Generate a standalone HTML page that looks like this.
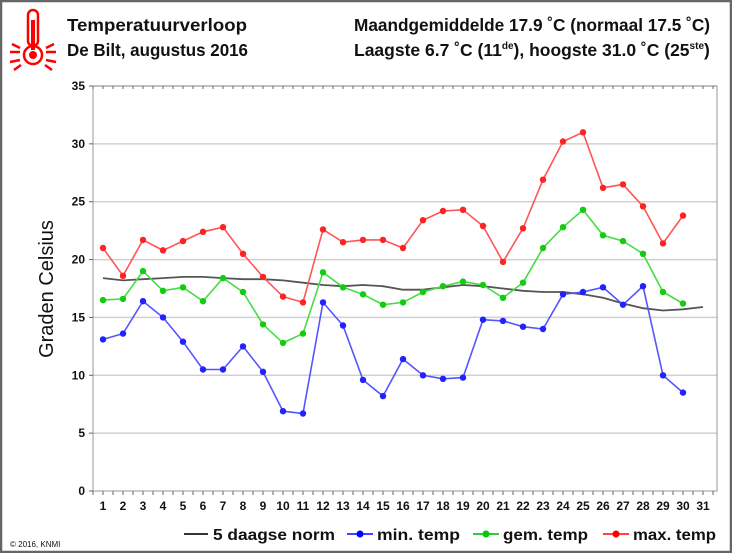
<!DOCTYPE html>
<html><head><meta charset="utf-8"><style>
body{margin:0;background:#fff;}
svg{display:block;font-family:"Liberation Sans",Arial,sans-serif;}
</style></head><body>
<svg id="c" width="732" height="553" viewBox="0 0 732 553" xmlns="http://www.w3.org/2000/svg">
<rect x="1" y="1" width="730" height="551" fill="#fff" stroke="#666" stroke-width="2.5"/>
<g stroke="#f00" fill="none" stroke-width="2.5">
<rect x="28" y="10" width="10" height="36" rx="5"/>
<circle cx="33" cy="55" r="9"/>
<line x1="33" y1="20" x2="33" y2="50" stroke-width="4"/>
<line x1="10" y1="52" x2="20" y2="52"/><line x1="46" y1="52" x2="56" y2="52"/>
<line x1="10" y1="62" x2="20" y2="60"/><line x1="46" y1="60" x2="56" y2="62"/>
<line x1="12" y1="44" x2="20" y2="48"/><line x1="46" y1="48" x2="54" y2="44"/>
<line x1="14" y1="70" x2="21" y2="65"/><line x1="45" y1="65" x2="52" y2="70"/>
</g>
<circle cx="33" cy="55" r="4" fill="#f00"/>
<g font-size="17.5" font-weight="bold" fill="#111">
<text x="67" y="31" textLength="180" lengthAdjust="spacingAndGlyphs">Temperatuurverloop</text>
<text x="67" y="56" textLength="181" lengthAdjust="spacingAndGlyphs">De Bilt, augustus 2016</text>
<text x="354" y="31" textLength="356" lengthAdjust="spacingAndGlyphs">Maandgemiddelde 17.9 ˚C (normaal 17.5 ˚C)</text>
<text x="354" y="56">Laagste 6.7 ˚C (11<tspan font-size="10" dy="-7">de</tspan><tspan dy="7">), hoogste 31.0 ˚C (25</tspan><tspan font-size="10" dy="-7">ste</tspan><tspan dy="7">)</tspan></text>
</g>
<text transform="translate(53,289) rotate(-90)" text-anchor="middle" font-size="20" fill="#111">Graden Celsius</text>
<g id="plot"></g>
<g font-size="15.5" font-weight="bold" fill="#111">
<line x1="184" y1="534" x2="208" y2="534" stroke="#333" stroke-width="2"/>
<text x="213" y="540" textLength="122" lengthAdjust="spacingAndGlyphs">5 daagse norm</text>
<line x1="347" y1="534" x2="373" y2="534" stroke="#44f" stroke-width="2"/><circle cx="360" cy="534" r="3.5" fill="#00f"/>
<text x="377" y="540" textLength="83" lengthAdjust="spacingAndGlyphs">min. temp</text>
<line x1="473" y1="534" x2="499" y2="534" stroke="#3c3" stroke-width="2"/><circle cx="486" cy="534" r="3.5" fill="#0c0"/>
<text x="503" y="540" textLength="85" lengthAdjust="spacingAndGlyphs">gem. temp</text>
<line x1="603" y1="534" x2="629" y2="534" stroke="#f44" stroke-width="2"/><circle cx="616" cy="534" r="3.5" fill="#f00"/>
<text x="633" y="540" textLength="83" lengthAdjust="spacingAndGlyphs">max. temp</text>
</g>
<text x="10" y="547" font-size="8" fill="#111">© 2016, KNMI</text>
</svg>
<script>
const g=document.getElementById('plot');
const L=93,R=717,T=86,B=491;
const X=d=>103+(d-1)*20, Y=v=>B-v*(B-T)/35;
let s='';
for(let v=5;v<=35;v+=5) s+=`<line x1="${L}" y1="${Y(v)}" x2="${R}" y2="${Y(v)}" stroke="#d0d0d0" stroke-width="1.5"/>`;
s+=`<rect x="${L}" y="${T}" width="${R-L}" height="${B-T}" fill="none" stroke="#999" stroke-width="1"/>`;
for(let v=0;v<=35;v+=5){s+=`<line x1="${L-4}" y1="${Y(v)}" x2="${L}" y2="${Y(v)}" stroke="#666"/><text x="${L-8}" y="${Y(v)+4}" text-anchor="end" font-size="12" font-weight="bold" fill="#111">${v}</text>`;}
for(let i=0;i<=62;i++){const x=93+i*10;if(x>R)break;s+=`<line x1="${x}" y1="${B}" x2="${x}" y2="${B+4}" stroke="#666"/><line x1="${x}" y1="${T}" x2="${x}" y2="${T+3}" stroke="#666"/>`;}
for(let d=1;d<=31;d++) s+=`<text x="${X(d)}" y="510" text-anchor="middle" font-size="12" font-weight="bold" fill="#111">${d}</text>`;
const norm=[18.4,18.2,18.3,18.4,18.5,18.5,18.4,18.3,18.3,18.2,18.0,17.8,17.7,17.8,17.7,17.4,17.4,17.6,17.8,17.7,17.5,17.3,17.2,17.2,17.0,16.7,16.2,15.8,15.6,15.7,15.9];
const mx=[21.0,18.6,21.7,20.8,21.6,22.4,22.8,20.5,18.5,16.8,16.3,22.6,21.5,21.7,21.7,21.0,23.4,24.2,24.3,22.9,19.8,22.7,26.9,30.2,31.0,26.2,26.5,24.6,21.4,23.8];
const gm=[16.5,16.6,19.0,17.3,17.6,16.4,18.4,17.2,14.4,12.8,13.6,18.9,17.6,17.0,16.1,16.3,17.2,17.7,18.1,17.8,16.7,18.0,21.0,22.8,24.3,22.1,21.6,20.5,17.2,16.2];
const mn=[13.1,13.6,16.4,15.0,12.9,10.5,10.5,12.5,10.3,6.9,6.7,16.3,14.3,9.6,8.2,11.4,10.0,9.7,9.8,14.8,14.7,14.2,14.0,17.0,17.2,17.6,16.1,17.7,10.0,8.5];
const pl=(a,c,w)=>`<polyline fill="none" stroke="${c}" stroke-width="${w}" points="${a.map((v,i)=>X(i+1)+','+Y(v).toFixed(1)).join(' ')}"/>`;
s+=pl(norm,'#555',1.8);
[[mn,'#55f','#22f'],[gm,'#4d4','#1c1'],[mx,'#f55','#f22']].forEach(([a,c,f])=>{s+=pl(a,c,1.6);a.forEach((v,i)=>s+=`<circle cx="${X(i+1)}" cy="${Y(v).toFixed(1)}" r="3.2" fill="${f}"/>`);});
g.innerHTML=s;
</script>
</body></html>
